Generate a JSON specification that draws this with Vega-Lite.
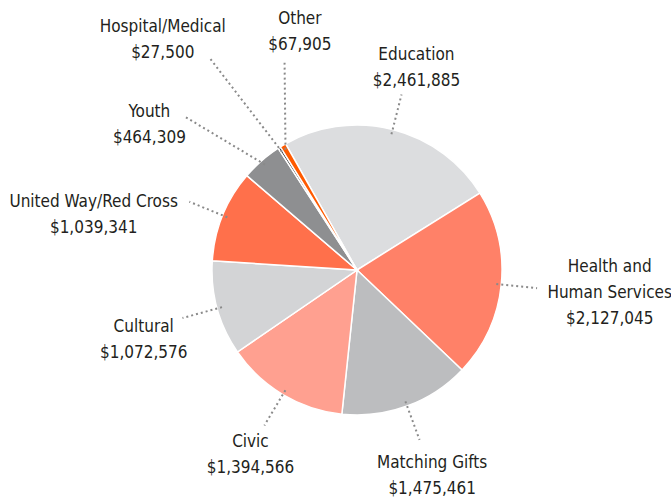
{
  "$schema": "https://vega.github.io/schema/vega-lite/v6.json",
  "width": 628,
  "height": 454,
  "padding": {"left": 43, "top": 43, "right": 0, "bottom": 0},
  "autosize": {"type": "none"},
  "background": "white",
  "config": {"view": {"stroke": null}, "font": "DejaVu Sans Condensed, Roboto",
    "text": {"lineBreak": "\n", "align": "center", "baseline": "middle", "fontSize": 17, "lineHeight": 26, "color": "#231f20"},
    "rule": {"stroke": "#8a8a8a", "strokeWidth": 2, "strokeDash": [2, 3]}},
  "data": {"values": [
    {"category": "Education", "label": "Education", "amount": 2461885, "order": 1},
    {"category": "Health and Human Services", "label": "Health and\nHuman Services", "amount": 2127045, "order": 2},
    {"category": "Matching Gifts", "label": "Matching Gifts", "amount": 1475461, "order": 3},
    {"category": "Civic", "label": "Civic", "amount": 1394566, "order": 4},
    {"category": "Cultural", "label": "Cultural", "amount": 1072576, "order": 5},
    {"category": "United Way/Red Cross", "label": "United Way/Red Cross", "amount": 1039341, "order": 6},
    {"category": "Youth", "label": "Youth", "amount": 464309, "order": 7},
    {"category": "Hospital/Medical", "label": "Hospital/Medical", "amount": 27500, "order": 8},
    {"category": "Other", "label": "Other", "amount": 67905, "order": 9}
  ]},
  "transform": [
    {"joinaggregate": [{"op": "sum", "field": "amount", "as": "total"}]},
    {"window": [{"op": "sum", "field": "amount", "as": "cum"}], "sort": [{"field": "order", "order": "ascending"}], "frame": [null, 0]},
    {"calculate": "-0.5149 + 2 * PI * (datum.cum - datum.amount / 2) / datum.total", "as": "a"},
    {"calculate": "sin(datum.a)", "as": "s"},
    {"calculate": "cos(datum.a)", "as": "c"},
    {"calculate": "'$' + format(datum.amount, ',')", "as": "money"},
    {"calculate": "datum.label + '\\n' + datum.money", "as": "text"},
    {"calculate": "indexof(datum.label, '\\n') >= 0 ? 3 : 2", "as": "nlines"},
    {"calculate": "indexof(datum.label, '\\n') >= 0 ? max(indexof(datum.label, '\\n'), length(datum.label) - indexof(datum.label, '\\n') - 1) : length(datum.label)", "as": "namelen"},
    {"calculate": "8 * max(datum.namelen, length(datum.money))", "as": "w"},
    {"calculate": "26 * datum.nlines - 14", "as": "h"},
    {"calculate": "145 + 44 + abs(datum.s) * datum.w / 2 + abs(datum.c) * datum.h / 2", "as": "d"},
    {"calculate": "datum.d * datum.s", "as": "lx"},
    {"calculate": "datum.d * datum.c + (datum.nlines - 1) * 13", "as": "ly"},
    {"calculate": "140 * datum.s", "as": "x0"},
    {"calculate": "140 * datum.c", "as": "y0"},
    {"calculate": "181 * datum.s", "as": "x1"},
    {"calculate": "181 * datum.c", "as": "y1"}
  ],
  "layer": [
    {
      "mark": {"type": "arc", "outerRadius": 145, "stroke": "white", "strokeWidth": 1.5},
      "encoding": {
        "theta": {"field": "amount", "type": "quantitative", "stack": true, "scale": {"range": [-0.5149, 5.7683]}},
        "order": {"field": "order", "type": "quantitative"},
        "color": {"field": "category", "type": "nominal", "legend": null,
          "scale": {
            "domain": ["Education", "Health and Human Services", "Matching Gifts", "Civic", "Cultural", "United Way/Red Cross", "Youth", "Hospital/Medical", "Other"],
            "range": ["#dcdddf", "#ff8168", "#bcbdbf", "#ffa090", "#d3d4d6", "#ff704b", "#8e8f91", "#231f20", "#ff5a00"]
          }
        }
      }
    },
    {
      "transform": [{"filter": "datum.order <= 6"}],
      "mark": {"type": "rule"},
      "encoding": {
        "x": {"field": "x0", "type": "quantitative", "scale": {"domain": [-314, 314], "nice": false, "zero": false}, "axis": null},
        "y": {"field": "y0", "type": "quantitative", "scale": {"domain": [-227, 227], "nice": false, "zero": false}, "axis": null},
        "x2": {"field": "x1"},
        "y2": {"field": "y1"}
      }
    },
    {
      "transform": [{"filter": "datum.order == 2"}],
      "mark": {"type": "text", "dx": 6, "dy": -2},
      "encoding": {
        "x": {"field": "lx", "type": "quantitative", "scale": {"domain": [-314, 314], "nice": false, "zero": false}, "axis": null},
        "y": {"field": "ly", "type": "quantitative", "scale": {"domain": [-227, 227], "nice": false, "zero": false}, "axis": null},
        "text": {"field": "text"}
      }
    },
    {
      "transform": [{"filter": "datum.order == 1"}],
      "mark": {"type": "text", "dx": 6, "dy": 9},
      "encoding": {
        "x": {"field": "lx", "type": "quantitative", "scale": {"domain": [-314, 314], "nice": false, "zero": false}, "axis": null},
        "y": {"field": "ly", "type": "quantitative", "scale": {"domain": [-227, 227], "nice": false, "zero": false}, "axis": null},
        "text": {"field": "text"}
      }
    },
    {
      "transform": [{"filter": "datum.order == 3"}],
      "mark": {"type": "text", "dx": -3, "dy": -6},
      "encoding": {
        "x": {"field": "lx", "type": "quantitative", "scale": {"domain": [-314, 314], "nice": false, "zero": false}, "axis": null},
        "y": {"field": "ly", "type": "quantitative", "scale": {"domain": [-227, 227], "nice": false, "zero": false}, "axis": null},
        "text": {"field": "text"}
      }
    },
    {
      "transform": [{"filter": "datum.order == 4"}],
      "mark": {"type": "text", "dx": 9, "dy": -9},
      "encoding": {
        "x": {"field": "lx", "type": "quantitative", "scale": {"domain": [-314, 314], "nice": false, "zero": false}, "axis": null},
        "y": {"field": "ly", "type": "quantitative", "scale": {"domain": [-227, 227], "nice": false, "zero": false}, "axis": null},
        "text": {"field": "text"}
      }
    },
    {
      "transform": [{"filter": "datum.order == 5"}],
      "mark": {"type": "text", "dx": 11, "dy": 8},
      "encoding": {
        "x": {"field": "lx", "type": "quantitative", "scale": {"domain": [-314, 314], "nice": false, "zero": false}, "axis": null},
        "y": {"field": "ly", "type": "quantitative", "scale": {"domain": [-227, 227], "nice": false, "zero": false}, "axis": null},
        "text": {"field": "text"}
      }
    },
    {
      "transform": [{"filter": "datum.order == 6"}],
      "mark": {"type": "text", "dx": -13, "dy": 47},
      "encoding": {
        "x": {"field": "lx", "type": "quantitative", "scale": {"domain": [-314, 314], "nice": false, "zero": false}, "axis": null},
        "y": {"field": "ly", "type": "quantitative", "scale": {"domain": [-227, 227], "nice": false, "zero": false}, "axis": null},
        "text": {"field": "text"}
      }
    },
    {
      "transform": [{"filter": "datum.category == 'Youth'"}],
      "layer": [
        {"mark": {"type": "rule", "x2Offset": -53, "y2Offset": -17},
         "encoding": {"x": {"field": "x0", "type": "quantitative", "scale": {"domain": [-314, 314], "nice": false, "zero": false}, "axis": null},
                      "y": {"field": "y0", "type": "quantitative", "scale": {"domain": [-227, 227], "nice": false, "zero": false}, "axis": null},
                      "x2": {"field": "x1"}, "y2": {"field": "y1"}}},
        {"mark": {"type": "text", "dx": -60, "dy": 24},
         "encoding": {"x": {"field": "lx", "type": "quantitative", "scale": {"domain": [-314, 314], "nice": false, "zero": false}, "axis": null},
                      "y": {"field": "ly", "type": "quantitative", "scale": {"domain": [-227, 227], "nice": false, "zero": false}, "axis": null},
                      "text": {"field": "text"}}}
      ]
    },
    {
      "transform": [{"filter": "datum.category == 'Hospital/Medical'"}],
      "layer": [
        {"mark": {"type": "rule", "x2Offset": -51, "y2Offset": -60},
         "encoding": {"x": {"field": "x0", "type": "quantitative", "scale": {"domain": [-314, 314], "nice": false, "zero": false}, "axis": null},
                      "y": {"field": "y0", "type": "quantitative", "scale": {"domain": [-227, 227], "nice": false, "zero": false}, "axis": null},
                      "x2": {"field": "x1"}, "y2": {"field": "y1"}}},
        {"mark": {"type": "text", "dx": -66, "dy": -28},
         "encoding": {"x": {"field": "lx", "type": "quantitative", "scale": {"domain": [-314, 314], "nice": false, "zero": false}, "axis": null},
                      "y": {"field": "ly", "type": "quantitative", "scale": {"domain": [-227, 227], "nice": false, "zero": false}, "axis": null},
                      "text": {"field": "text"}}}
      ]
    },
    {
      "transform": [{"filter": "datum.category == 'Other'"}],
      "layer": [
        {"mark": {"type": "rule", "x2Offset": 20, "y2Offset": -52},
         "encoding": {"x": {"field": "x0", "type": "quantitative", "scale": {"domain": [-314, 314], "nice": false, "zero": false}, "axis": null},
                      "y": {"field": "y0", "type": "quantitative", "scale": {"domain": [-227, 227], "nice": false, "zero": false}, "axis": null},
                      "x2": {"field": "x1"}, "y2": {"field": "y1"}}},
        {"mark": {"type": "text", "dx": 55, "dy": -49},
         "encoding": {"x": {"field": "lx", "type": "quantitative", "scale": {"domain": [-314, 314], "nice": false, "zero": false}, "axis": null},
                      "y": {"field": "ly", "type": "quantitative", "scale": {"domain": [-227, 227], "nice": false, "zero": false}, "axis": null},
                      "text": {"field": "text"}}}
      ]
    }
  ]
}
